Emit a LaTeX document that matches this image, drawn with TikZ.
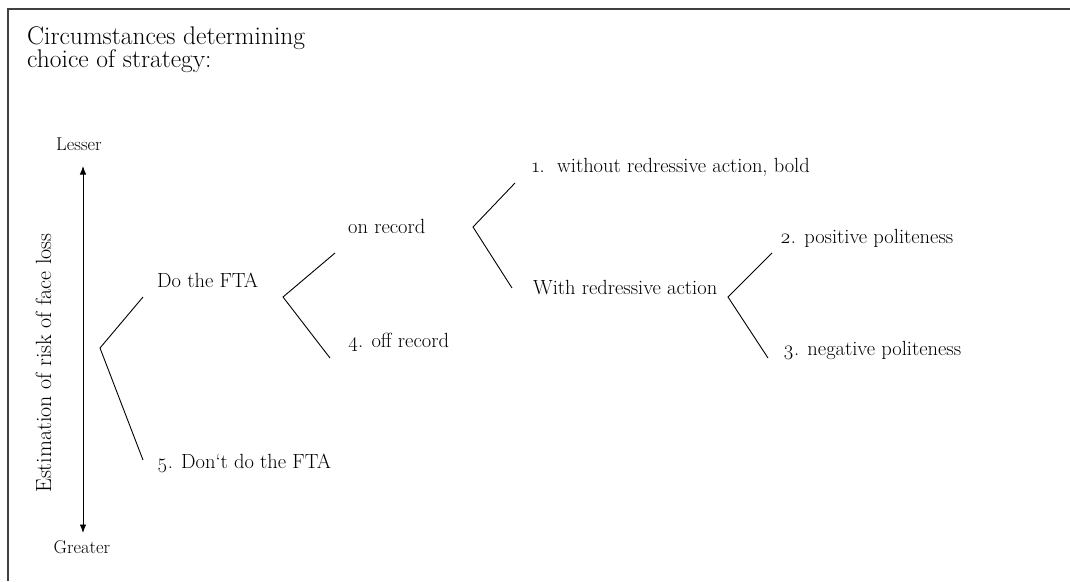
\documentclass[tikz,border=0pt]{standalone}
\usepackage{fontspec}
\setmainfont{Latin Modern Roman}[Numbers=OldStyle]
\usetikzlibrary{arrows.meta}
\tikzset{
  lbl/.style={anchor=base west, inner sep=0pt, font=\fontsize{20.5}{24}\selectfont},
  ttl/.style={anchor=base west, inner sep=0pt, font=\fontsize{25.5}{29}\selectfont},
  small/.style={anchor=base, inner sep=0pt, font=\fontsize{18.5}{22}\selectfont},
  vlbl/.style={anchor=base, inner sep=0pt, rotate=90, font=\fontsize{22}{26}\selectfont},
  branch/.style={line width=0.9pt, black},
  frame/.style={line width=1.3pt, black!75},
  axisarrow/.style={line width=0.9pt, {Latex[length=8.5pt,width=6.5pt]}-{Latex[length=8.5pt,width=6.5pt]}}
}
\begin{document}
\begin{tikzpicture}[x=1pt,y=-1pt]
\useasboundingbox (0,0) rectangle (1070,581);
\draw[frame] (1070,9) -- (8,9) -- (8,581);
% title
\node[ttl] (title) at (27,44) {Circumstances determining};
\node[ttl] (title2) at (27,67) {choice of strategy:};
% scale
\node[small] (lesser) at (79,150) {Lesser};
\node[small] (greater) at (82,553) {Greater};
\coordinate (atop) at (83,166);
\coordinate (abot) at (83,533);
\draw[axisarrow] (atop) -- (abot);
\node[vlbl] (est) at (51,363) {Estimation of risk of face loss};
% tree
\node[lbl] (dofta) at (157,287) {Do the FTA};
\node[lbl] (dont) at (157,468) {5. Don‘t do the FTA};
\node[lbl] (onrec) at (348,233) {on record};
\node[lbl] (offrec) at (348,347) {4. off record};
\node[lbl] (without) at (532,172) {1.\ \ without redressive action, bold};
\node[lbl] (with) at (533,294) {With redressive action};
\node[lbl] (pos) at (780,243) {2. positive politeness};
\node[lbl] (neg) at (783,355) {3. negative politeness};
% brackets
\coordinate (v0) at (100,348);
\coordinate (e0a) at (143,297);
\coordinate (e0b) at (143,460);
\draw[branch] (e0a) -- (v0) -- (e0b);
\coordinate (v1) at (283,297);
\coordinate (e1a) at (335,253);
\coordinate (e1b) at (330,358);
\draw[branch] (e1a) -- (v1) -- (e1b);
\coordinate (v2) at (473,227);
\coordinate (e2a) at (515,183);
\coordinate (e2b) at (512,288);
\draw[branch] (e2a) -- (v2) -- (e2b);
\coordinate (v3) at (728,297);
\coordinate (e3a) at (772,253);
\coordinate (e3b) at (768,358);
\draw[branch] (e3a) -- (v3) -- (e3b);
\end{tikzpicture}
\end{document}
